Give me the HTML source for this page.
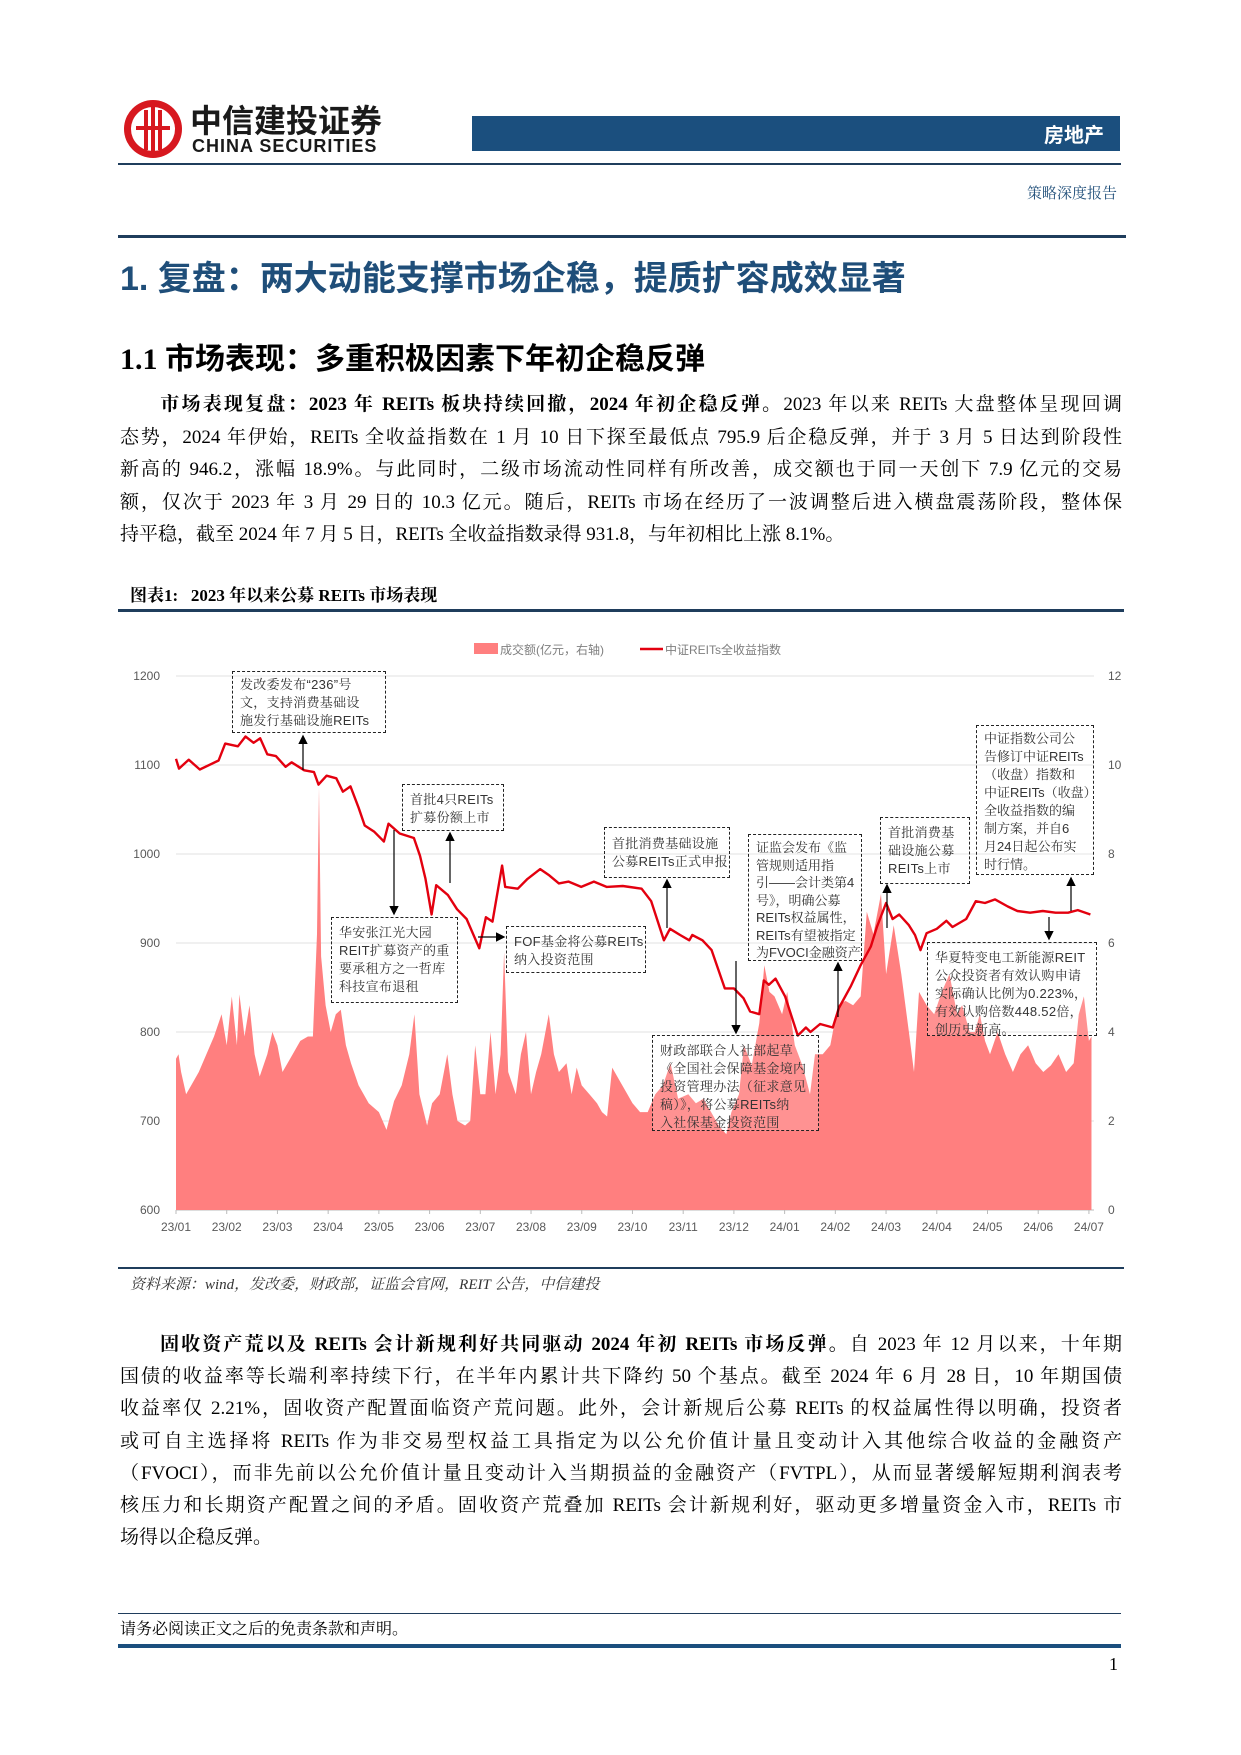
<!DOCTYPE html>
<html><head><meta charset="utf-8">
<style>
*{margin:0;padding:0;box-sizing:border-box}
body{width:1241px;height:1755px;background:#fff;position:relative;overflow:hidden;font-family:"Liberation Serif","Noto Serif CJK SC",serif;color:#000}
.abs{position:absolute}
.p{position:absolute;left:120px;width:1002px;font-size:19px;line-height:32.5px}
.p div{white-space:nowrap;text-align:justify;text-align-last:justify}
.p div.last{text-align-last:left}
.box{position:absolute;border:1.5px dashed #222;font-family:"Liberation Sans","Noto Serif CJK SC",sans-serif;font-size:13px;line-height:18px;color:#333;padding:4px 7px;background:rgba(255,255,255,0.15);white-space:nowrap;letter-spacing:0.3px}
</style></head><body>
<div class="abs" style="left:122px;top:98px;width:300px;height:62px">
<svg width="64" height="64"><circle cx="31" cy="31" r="29" fill="#d7181f"/><circle cx="31" cy="31" r="22" fill="#fff"/><rect x="22" y="12" width="4" height="40" fill="#d7181f"/><rect x="29" y="8" width="4" height="48" fill="#d7181f"/><rect x="36" y="12" width="4" height="40" fill="#d7181f"/><rect x="14" y="28" width="34" height="4" fill="#d7181f"/></svg>
<div class="abs" style="left:68px;top:-2px;font:bold 32px 'Noto Sans CJK SC',sans-serif;color:#1a1a1a">中信建投证券</div>
<div class="abs" style="left:70px;top:38px;font:bold 18px 'Liberation Sans',sans-serif;color:#1a1a1a;letter-spacing:1px">CHINA SECURITIES</div>
</div>
<div class="abs" style="left:472px;top:116px;width:648px;height:35px;background:#1b4f7e;color:#fff;font:bold 20px 'Noto Sans CJK SC',sans-serif;text-align:right;padding-right:16px;line-height:35px">房地产</div>
<div class="abs" style="left:118px;top:163px;width:1003px;height:2px;background:#1f3d5c"></div>
<div class="abs" style="right:124px;top:182px;font-size:15px;color:#1f4e79">策略深度报告</div>
<div class="abs" style="left:118px;top:235px;width:1008px;height:3px;background:#1f3d5c"></div>
<div class="abs" style="left:120px;top:251px;font:bold 34px 'Liberation Sans','Noto Sans CJK SC',sans-serif;color:#1f4e79">1. 复盘：两大动能支撑市场企稳，提质扩容成效显著</div>
<div class="abs" style="left:120px;top:334px;font:bold 30px 'Liberation Serif','Noto Sans CJK SC',serif">1.1 市场表现：多重积极因素下年初企稳反弹</div>
<div class="p" style="top:389px">
<div>&emsp;&emsp;<b>市场表现复盘：2023 年 REITs 板块持续回撤，2024 年初企稳反弹。</b>2023 年以来 REITs 大盘整体呈现回调</div>
<div>态势，2024 年伊始，REITs 全收益指数在 1 月 10 日下探至最低点 795.9 后企稳反弹，并于 3 月 5 日达到阶段性</div>
<div>新高的 946.2，涨幅 18.9%。与此同时，二级市场流动性同样有所改善，成交额也于同一天创下 7.9 亿元的交易</div>
<div>额，仅次于 2023 年 3 月 29 日的 10.3 亿元。随后，REITs 市场在经历了一波调整后进入横盘震荡阶段，整体保</div>
<div class="last">持平稳，截至 2024 年 7 月 5 日，REITs 全收益指数录得 931.8，与年初相比上涨 8.1%。</div>
</div>
<div class="abs" style="left:130px;top:581px;font-weight:bold;font-size:17px">图表1:&nbsp;&nbsp; 2023 年以来公募 REITs 市场表现</div>
<div class="abs" style="left:118px;top:609px;width:1006px;height:3px;background:#1f3d5c"></div>

<svg class="abs" id="chart" style="left:0;top:620px" width="1241" height="640" viewBox="0 620 1241 640" font-family="Liberation Sans, Noto Sans CJK SC, sans-serif"></svg>

<div class="box" style="left:232px;top:671px;width:154px;height:62px">发改委发布“236”号<br>文，支持消费基础设<br>施发行基础设施REITs</div>
<div class="box" style="left:402px;top:784px;width:102px;height:47px;padding-top:6px">首批4只REITs<br>扩募份额上市</div>
<div class="box" style="left:331px;top:917px;width:127px;height:86px;padding-top:6px">华安张江光大园<br>REIT扩募资产的重<br>要承租方之一哲库<br>科技宣布退租</div>
<div class="box" style="left:506px;top:926px;width:140px;height:47px;padding-top:6px">FOF基金将公募REITs<br>纳入投资范围</div>
<div class="box" style="left:604px;top:827px;width:126px;height:51px;padding-top:7px">首批消费基础设施<br>公募REITs正式申报</div>
<div class="box" style="left:748px;top:834px;width:114px;height:127px;line-height:17.5px;letter-spacing:0px">证监会发布《监<br>管规则适用指<br>引——会计类第4<br>号》，明确公募<br>REITs权益属性，<br>REITs有望被指定<br>为FVOCI金融资产</div>
<div class="box" style="left:880px;top:817px;width:90px;height:67px;padding-top:6px">首批消费基<br>础设施公募<br>REITs上市</div>
<div class="box" style="left:976px;top:725px;width:118px;height:150px;letter-spacing:0px">中证指数公司公<br>告修订中证REITs<br>（收盘）指数和<br>中证REITs（收盘）<br>全收益指数的编<br>制方案，并自6<br>月24日起公布实<br>时行情。</div>
<div class="box" style="left:927px;top:942px;width:170px;height:94px;padding-top:6px">华夏特变电工新能源REIT<br>公众投资者有效认购申请<br>实际确认比例为0.223%，<br>有效认购倍数448.52倍，<br>创历史新高。</div>
<div class="box" style="left:652px;top:1035px;width:167px;height:96px;padding-top:6px">财政部联合人社部起草<br>《全国社会保障基金境内<br>投资管理办法（征求意见<br>稿）》，将公募REITs纳<br>入社保基金投资范围</div>

<div class="abs" style="left:118px;top:1267px;width:1006px;height:2px;background:#1f3d5c"></div>
<div class="abs" style="left:130px;top:1273px;font-size:15px;font-style:italic;color:#333">资料来源：wind，发改委，财政部，证监会官网，REIT 公告，中信建投</div>
<div class="p" style="top:1329px;line-height:32.2px">
<div>&emsp;&emsp;<b>固收资产荒以及 REITs 会计新规利好共同驱动 2024 年初 REITs 市场反弹。</b>自 2023 年 12 月以来，十年期</div>
<div>国债的收益率等长端利率持续下行，在半年内累计共下降约 50 个基点。截至 2024 年 6 月 28 日，10 年期国债</div>
<div>收益率仅 2.21%，固收资产配置面临资产荒问题。此外，会计新规后公募 REITs 的权益属性得以明确，投资者</div>
<div>或可自主选择将 REITs 作为非交易型权益工具指定为以公允价值计量且变动计入其他综合收益的金融资产</div>
<div>（FVOCI），而非先前以公允价值计量且变动计入当期损益的金融资产（FVTPL），从而显著缓解短期利润表考</div>
<div>核压力和长期资产配置之间的矛盾。固收资产荒叠加 REITs 会计新规利好，驱动更多增量资金入市，REITs 市</div>
<div class="last">场得以企稳反弹。</div>
</div>
<div class="abs" style="left:118px;top:1613px;width:1003px;height:1px;background:#1f3d5c"></div>
<div class="abs" style="left:120px;top:1616px;font-size:16px">请务必阅读正文之后的免责条款和声明。</div>
<div class="abs" style="left:118px;top:1644px;width:1003px;height:4px;background:#1b4f7e"></div>
<div class="abs" style="left:1109px;top:1654px;font-size:18px">1</div>

<script>
const monthLabels=["23/01","23/02","23/03","23/04","23/05","23/06","23/07","23/08","23/09","23/10","23/11","23/12","24/01","24/02","24/03","24/04","24/05","24/06","24/07"];
const leftTicks=[600,700,800,900,1000,1100,1200];
const rightTicks=[0,2,4,6,8,10,12];
const lineM=[0,0.06,0.25,0.47,0.84,0.97,1.22,1.37,1.53,1.66,1.8,1.97,2.16,2.28,2.53,2.72,2.81,2.97,3.16,3.29,3.44,3.6,3.72,3.91,4.1,4.19,4.41,4.69,4.81,4.92,5.04,5.13,5.36,5.54,5.73,5.98,6.11,6.24,6.43,6.49,6.74,6.93,7.18,7.36,7.55,7.74,7.99,8.24,8.49,8.81,9.18,9.37,9.62,9.74,9.94,10.12,10.18,10.38,10.56,10.82,11.0,11.19,11.32,11.5,11.59,11.69,11.82,12.01,12.26,12.42,12.51,12.7,12.95,13.07,13.3,13.49,13.7,13.82,14.0,14.13,14.26,14.45,14.57,14.68,14.8,15.0,15.19,15.31,15.58,15.77,15.95,16.15,16.4,16.59,16.84,17.09,17.34,17.59,17.78,18.03];
const lineV=[1107,1096,1106,1095,1105,1124,1121,1132,1125,1130,1112,1110,1098,1103,1094,1092,1078,1088,1085,1070,1076,1052,1032,1025,1014,1034,1023,1018,998,972,932,965,954,938,927,894,929,924,987,963,961,972,983,976,967,969,963,969,963,964,961,947,903,916,909,903,909,903,892,849,849,838,823,820,858,853,860,840,796,805,800,809,805,827,851,874,896,918,945,927,932,920,909,892,911,916,925,918,927,947,945,949,941,936,934,936,934,934,937,932];
const volM=[0,0.05,0.1,0.2,0.3,0.45,0.6,0.75,0.9,1.0,1.1,1.2,1.25,1.35,1.45,1.55,1.65,1.8,1.9,2.0,2.1,2.3,2.45,2.6,2.7,2.78,2.82,2.86,2.95,3.05,3.15,3.25,3.35,3.45,3.6,3.8,4.0,4.15,4.3,4.45,4.6,4.7,4.8,4.95,5.05,5.2,5.35,5.45,5.55,5.7,5.8,5.9,6.0,6.1,6.2,6.3,6.4,6.47,6.55,6.7,6.8,6.9,7.0,7.1,7.2,7.35,7.45,7.55,7.7,7.8,7.9,8.0,8.15,8.3,8.4,8.5,8.6,8.75,8.9,9.0,9.15,9.3,9.45,9.6,9.75,9.9,10.1,10.25,10.4,10.55,10.7,10.85,10.95,11.1,11.2,11.35,11.5,11.6,11.7,11.8,11.95,12.05,12.2,12.35,12.5,12.6,12.75,12.9,13.05,13.2,13.35,13.5,13.62,13.75,13.9,14.0,14.15,14.3,14.45,14.55,14.65,14.8,14.95,15.1,15.25,15.4,15.5,15.65,15.75,15.85,15.95,16.05,16.2,16.35,16.5,16.65,16.8,16.95,17.1,17.25,17.4,17.55,17.7,17.8,17.9,18.0,18.05];
const volV=[3.4,3.5,3.1,2.6,2.8,3.1,3.5,3.9,4.4,3.7,4.8,3.7,4.85,3.9,4.6,3.5,3.0,3.5,4.0,3.7,3.1,3.5,3.8,3.9,3.9,6.2,9.5,5.7,4.6,4.0,4.4,4.5,3.7,3.3,2.8,2.4,2.2,1.8,2.45,2.8,3.5,4.4,2.6,1.9,2.4,2.6,3.5,2.6,2.0,1.9,2.0,3.7,2.6,2.6,4.0,2.6,3.5,5.8,3.1,2.6,3.5,4.0,2.6,3.1,3.5,4.4,3.5,3.1,3.3,2.6,3.2,2.8,2.6,2.4,2.2,2.1,3.2,2.9,2.6,2.4,2.2,2.2,2.6,2.8,3.3,2.5,2.6,2.4,2.5,2.2,1.9,1.7,2.2,2.6,3.7,3.25,4.2,5.5,4.9,4.8,4.4,4.9,3.7,3.25,2.6,3.5,3.5,3.7,4.6,4.7,4.6,4.8,6.7,6.2,7.1,5.3,6.4,5.3,4.0,3.1,4.9,4.6,4.4,4.9,5.3,4.4,4.6,4.0,4.0,4.4,3.8,3.5,4.0,3.5,3.1,3.5,3.7,3.3,3.1,3.25,3.5,3.1,3.3,4.4,4.8,3.8,3.9];

const svg=document.getElementById('chart');
const NS='http://www.w3.org/2000/svg';
const X0=176,X1=1094,MMAX=18.1,Y600=1210,Y1200=676;
function xs(m){return X0+m/MMAX*(X1-X0);}
function yl(v){return Y600-(v-600)/600*(Y600-Y1200);}
function yr(v){return Y600-v/12*(Y600-Y1200);}
function mk(tag,at){const e=document.createElementNS(NS,tag);for(const k in at)e.setAttribute(k,at[k]);svg.appendChild(e);return e;}
leftTicks.forEach(t=>{
  const g=mk('line',{x1:X0,x2:X1,y1:yl(t),y2:yl(t),stroke:t===600?'#bbb':'#e0e0e0','stroke-width':1});
  
  
  const tx=mk('text',{x:160,y:yl(t)+4,'text-anchor':'end','font-size':12,fill:'#595959'});
  tx.textContent=t;
  
  
});
rightTicks.forEach(t=>{
  const tx=mk('text',{x:1108,y:yr(t)+4,'text-anchor':'start','font-size':12,fill:'#595959'});
  tx.textContent=t;
  
  
});
monthLabels.forEach((l,i)=>{
  const tx=mk('text',{x:xs(i),y:1231,'text-anchor':'middle','font-size':12,fill:'#595959'});
  tx.textContent=l;
  
  
  const tk=mk('line',{x1:xs(i),x2:xs(i),y1:Y600,y2:Y600+4,stroke:'#bbb'});
  
  
});
let d='M'+xs(volM[0])+','+Y600;
volM.forEach((m,i)=>{d+=' L'+xs(m).toFixed(1)+','+yr(volV[i]).toFixed(1);});
d+=' L'+xs(volM[volM.length-1])+','+Y600+' Z';
const area=mk('path',{d:d,fill:'#ff7f7f'});


let ld='';
lineM.forEach((m,i)=>{ld+=(i?' L':'M')+xs(m).toFixed(1)+','+yl(lineV[i]).toFixed(1);});
const ln=mk('path',{d:ld,fill:'none',stroke:'#e3000f','stroke-width':2.4,'stroke-linejoin':'round'});


const lg1=mk('rect',{x:474,y:643,width:24,height:11,fill:'#ff7f7f'});


const lt1=mk('text',{x:500,y:654,'font-size':12,fill:'#7f7f7f'});lt1.textContent='成交额(亿元，右轴)';


const lg2=mk('line',{x1:640,x2:663,y1:649,y2:649,stroke:'#e3000f','stroke-width':2.4});


const lt2=mk('text',{x:665,y:654,'font-size':12,fill:'#7f7f7f'});lt2.textContent='中证REITs全收益指数';


const defs=mk('defs',{});
defs.innerHTML='<marker id="ah" markerWidth="8" markerHeight="8" refX="6" refY="4" orient="auto"><path d="M0,0 L8,4 L0,8 Z" fill="#000"/></marker>';
[[303,770,303,737],[450,883,450,834],[394,830,394,913],[478,937,503,937],[667,928,667,881],[838,1017,838,964],[887,928,887,886],[1071,911,1071,879],[1049,917,1049,938],[736,961,736,1032]].forEach(a=>{
  const l=mk('line',{x1:a[0],y1:a[1],x2:a[2],y2:a[3],stroke:'#000','stroke-width':1.2,'marker-end':'url(#ah)'});
  
  
});
</script>
</body></html>
